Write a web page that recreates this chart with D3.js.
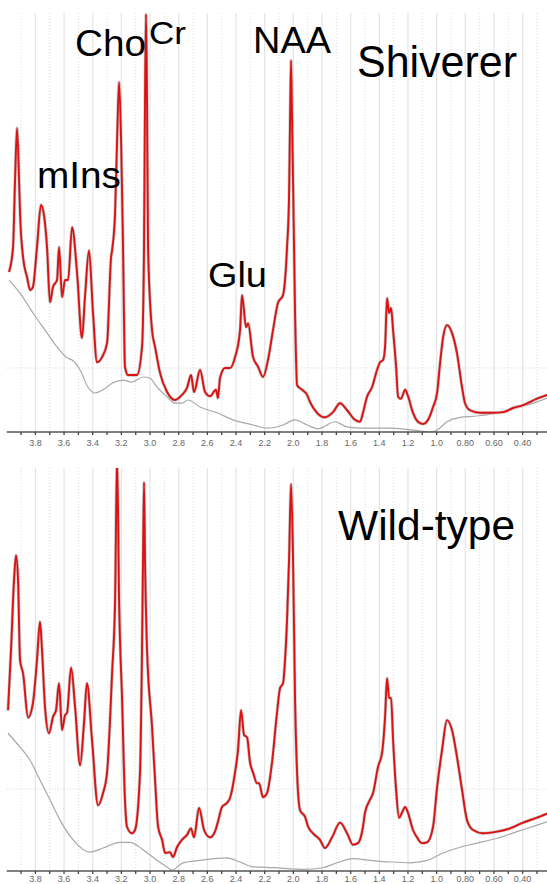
<!DOCTYPE html>
<html><head><meta charset="utf-8">
<script src="https://cdn.jsdelivr.net/npm/d3@7"></script>
<style>
html,body{margin:0;padding:0;background:#fff;}
svg{display:block;}
text{font-family:"Liberation Sans",Arial,sans-serif;}
</style></head>
<body>
<svg id="c" width="547" height="884"></svg>
<script>
// ppm axis ticks
const majorTicks = [3.8,3.6,3.4,3.2,3.0,2.8,2.6,2.4,2.2,2.0,1.8,1.6,1.4,1.2,1.0,0.8,0.6,0.4];
const tickLabels = ["3.8","3.6","3.4","3.2","3.0","2.8","2.6","2.4","2.2","2.0","1.8","1.6","1.4","1.2","1.0","0.80","0.60","0.40"];
const minorTicks = [3.9,3.7,3.5,3.3,3.1,2.9,2.7,2.5,2.3,2.1,1.9,1.7,1.5,1.3,1.1,0.9,0.7,0.5,0.3];

// Shiverer: fitted spectrum [ppm, intensity a.u.]
const shivFit = [
[3.984,2.50],[3.956,2.89],[3.942,3.94],[3.928,4.75],[3.914,3.94],[3.907,3.42],[3.886,2.73],[3.858,2.42],[3.837,2.22],[3.817,2.27],
[3.789,2.89],[3.761,3.55],[3.740,3.39],[3.719,2.89],[3.698,2.03],[3.677,2.27],[3.649,2.375],[3.635,2.89],[3.614,2.11],[3.593,2.375],
[3.572,2.375],[3.544,3.20],[3.509,2.48],[3.475,1.47],[3.454,2.11],[3.426,2.84],[3.398,1.86],[3.370,1.09],[3.335,1.17],[3.300,1.39],
[3.272,2.73],[3.265,2.84],[3.244,3.42],[3.230,4.56],[3.216,5.47],[3.202,4.56],[3.188,2.84],[3.175,1.02],[3.154,0.89],[3.091,0.89],
[3.056,1.33],[3.042,2.89],[3.035,5.19],[3.028,6.53],[3.021,5.19],[3.014,2.89],[2.986,1.59],[2.965,1.33],[2.930,0.92],[2.881,0.625],
[2.826,0.50],[2.777,0.58],[2.742,0.69],[2.714,0.89],[2.693,0.625],[2.651,0.97],[2.616,0.625],[2.581,0.56],[2.540,0.66],[2.526,0.53],
[2.512,0.84],[2.477,1.00],[2.442,1.00],[2.407,1.17],[2.372,1.59],[2.358,2.14],[2.330,1.64],[2.316,1.70],[2.281,1.17],[2.246,1.02],
[2.212,0.86],[2.177,1.125],[2.142,1.59],[2.107,2.02],[2.072,2.14],[2.058,2.375],[2.044,2.89],[2.030,3.67],[2.023,4.875],[2.016,5.81],
[2.009,4.875],[2.002,3.94],[1.988,1.86],[1.974,0.73],[1.939,0.66],[1.904,0.58],[1.884,0.47],[1.835,0.30],[1.779,0.23],[1.723,0.31],
[1.674,0.45],[1.625,0.34],[1.570,0.19],[1.535,0.16],[1.514,0.30],[1.486,0.55],[1.451,0.70],[1.416,0.97],[1.395,1.09],[1.374,1.125],
[1.360,1.33],[1.346,2.09],[1.332,1.86],[1.318,1.94],[1.304,1.59],[1.283,1.02],[1.269,0.55],[1.249,0.52],[1.220,0.66],[1.200,0.56],
[1.165,0.30],[1.130,0.16],[1.095,0.125],[1.060,0.19],[1.025,0.39],[0.997,0.61],[0.976,1.08],[0.955,1.48],[0.928,1.67],[0.893,1.55],
[0.858,1.23],[0.823,0.70],[0.802,0.45],[0.767,0.34],[0.697,0.30],[0.607,0.30],[0.537,0.31],[0.467,0.375],[0.397,0.42],[0.300,0.52],[0.230,0.58]
];
// Shiverer: baseline
const shivBase = [
[3.984,2.375],[3.907,2.17],[3.817,1.86],[3.719,1.55],[3.649,1.33],[3.579,1.16],[3.544,1.125],[3.488,0.97],[3.433,0.70],[3.384,0.61],
[3.328,0.66],[3.258,0.77],[3.188,0.81],[3.126,0.78],[3.049,0.86],[3.000,0.84],[2.951,0.70],[2.881,0.55],[2.826,0.45],[2.777,0.45],
[2.735,0.50],[2.651,0.39],[2.532,0.30],[2.421,0.19],[2.281,0.11],[2.184,0.06],[2.072,0.11],[1.988,0.19],[1.904,0.11],[1.828,0.05],
[1.709,0.16],[1.625,0.08],[1.514,0.06],[1.346,0.06],[1.165,0.03],[1.046,0.00],[0.997,0.03],[0.928,0.16],[0.837,0.23],[0.718,0.25],
[0.579,0.30],[0.439,0.375],[0.300,0.47],[0.230,0.53]
];
// Wild-type: fitted spectrum
const wtFit = [
[3.991,1.96],[3.970,2.70],[3.949,3.55],[3.935,3.85],[3.921,3.55],[3.907,2.57],[3.886,2.41],[3.851,1.87],[3.817,2.05],[3.789,2.57],
[3.768,3.04],[3.754,2.70],[3.733,2.00],[3.705,1.68],[3.677,1.88],[3.656,1.96],[3.635,2.29],[3.614,1.72],[3.593,1.90],[3.579,1.93],
[3.551,2.48],[3.523,2.00],[3.488,1.29],[3.461,1.80],[3.440,2.29],[3.405,1.60],[3.363,0.80],[3.328,0.95],[3.300,1.20],[3.265,2.41],
[3.244,3.30],[3.230,5.05],[3.216,3.30],[3.195,2.09],[3.175,0.87],[3.161,0.54],[3.126,0.46],[3.105,0.50],[3.070,1.20],[3.056,2.70],
[3.049,3.79],[3.042,4.74],[3.035,3.79],[3.021,2.70],[2.986,1.76],[2.965,1.11],[2.944,0.54],[2.916,0.38],[2.895,0.22],[2.861,0.23],
[2.840,0.17],[2.812,0.29],[2.777,0.38],[2.742,0.44],[2.714,0.52],[2.693,0.41],[2.658,0.77],[2.623,0.50],[2.581,0.41],[2.547,0.48],
[2.526,0.60],[2.498,0.78],[2.463,0.83],[2.442,0.89],[2.407,1.20],[2.386,1.48],[2.365,1.96],[2.344,1.66],[2.323,1.63],[2.302,1.32],
[2.281,1.20],[2.253,1.07],[2.239,1.07],[2.212,0.90],[2.184,0.95],[2.149,1.32],[2.114,1.93],[2.093,2.23],[2.072,2.29],[2.058,2.57],
[2.044,3.06],[2.030,3.79],[2.016,4.72],[2.002,3.79],[1.988,2.09],[1.974,1.20],[1.953,0.74],[1.918,0.66],[1.897,0.54],[1.863,0.46],
[1.814,0.38],[1.779,0.28],[1.730,0.41],[1.674,0.59],[1.625,0.46],[1.584,0.32],[1.549,0.34],[1.514,0.54],[1.500,0.71],[1.465,0.87],
[1.444,0.95],[1.409,1.27],[1.381,1.44],[1.360,1.88],[1.346,2.35],[1.332,2.11],[1.318,2.11],[1.304,1.60],[1.283,0.99],[1.262,0.65],
[1.242,0.71],[1.220,0.78],[1.200,0.71],[1.165,0.50],[1.137,0.41],[1.102,0.34],[1.067,0.35],[1.025,0.54],[0.997,1.02],[0.962,1.48],
[0.928,1.84],[0.893,1.72],[0.858,1.39],[0.823,0.99],[0.788,0.62],[0.746,0.50],[0.677,0.46],[0.579,0.48],[0.488,0.52],[0.397,0.59],
[0.300,0.65],[0.230,0.70]
];
// Wild-type: baseline
const wtBase = [
[3.991,1.68],[3.907,1.51],[3.837,1.35],[3.768,1.11],[3.698,0.87],[3.628,0.62],[3.537,0.38],[3.419,0.23],[3.328,0.28],[3.209,0.35],
[3.140,0.35],[3.049,0.26],[2.951,0.13],[2.874,0.04],[2.847,0.01],[2.770,0.10],[2.651,0.13],[2.463,0.16],[2.372,0.11],[2.281,0.05],
[2.142,0.04],[1.932,0.02],[1.793,0.04],[1.695,0.10],[1.584,0.15],[1.465,0.13],[1.325,0.11],[1.186,0.10],[1.067,0.13],[0.955,0.22],
[0.837,0.29],[0.718,0.34],[0.579,0.40],[0.439,0.48],[0.300,0.56],[0.230,0.60]
];

const shivLabels = [
 {t:"Cho", p:3.523, v:5.88, size:36, len:71},
 {t:"Cr", p:3.007, v:6.06, size:32, len:37},
 {t:"NAA", p:2.281, v:5.92, size:37, len:78},
 {t:"mIns", p:3.789, v:3.81, size:36, len:84},
 {t:"Glu", p:2.596, v:2.27, size:35, len:59},
 {t:"Shiverer", p:1.556, v:5.55, size:44, len:160}
];
const wtLabels = [
 {t:"Wild-type", p:1.688, v:4.04, size:43, len:177}
];

const W = 547;
const svg = d3.select("#c");
const x = d3.scaleLinear().domain([4.047, 0.230]).range([0, W]);

const panels = [
  {name:"shiv", top:13, axisY:432, ymax:6.55, fit:shivFit, base:shivBase, labels:shivLabels, lblDy:14},
  {name:"wt", top:468, axisY:871, ymax:4.915, fit:wtFit, base:wtBase, labels:wtLabels, lblDy:11}
];

panels.forEach(P => {
  const y = d3.scaleLinear().domain([0, P.ymax]).range([P.axisY, P.top]);
  const g = svg.append("g");
  svg.append("clipPath").attr("id","clip-"+P.name)
    .append("rect").attr("x",0).attr("y",P.top).attr("width",W).attr("height",P.axisY-P.top);

  // vertical gridlines
  g.selectAll(".gmin").data(minorTicks).join("line")
    .attr("x1",d=>x(d)).attr("x2",d=>x(d)).attr("y1",P.top).attr("y2",P.axisY)
    .attr("stroke","#dcdcdc").attr("stroke-width",1).attr("stroke-dasharray","1,2");
  g.selectAll(".gmaj").data(majorTicks).join("line")
    .attr("x1",d=>x(d)).attr("x2",d=>x(d)).attr("y1",P.top).attr("y2",P.axisY)
    .attr("stroke","#e4e4e4").attr("stroke-width",1.2);
  // horizontal gridline
  g.append("line").attr("x1",x(4.0)).attr("x2",W).attr("y1",y(1)).attr("y2",y(1))
    .attr("stroke","#d6d6d6").attr("stroke-width",1).attr("stroke-dasharray","1,2");

  const line = d3.line().x(d=>x(d[0])).y(d=>y(d[1])).curve(d3.curveMonotoneX);
  const cg = g.append("g").attr("clip-path","url(#clip-"+P.name+")");
  cg.append("path").datum(P.base).attr("d",line).attr("fill","none")
    .attr("stroke","#a8a8a8").attr("stroke-width",1.2);
  cg.append("path").datum(P.fit).attr("d",line).attr("fill","none")
    .attr("stroke","#c8c8c8").attr("stroke-width",3.2);
  cg.append("path").datum(P.fit).attr("d",line).attr("fill","none")
    .attr("stroke","#dd1111").attr("stroke-width",1.9);

  // axis
  const ag = g.append("g").attr("transform","translate(0,"+P.axisY+")");
  ag.append("line").attr("x1",x(4.0)).attr("x2",W).attr("y1",0).attr("y2",0)
    .attr("stroke","#555").attr("stroke-width",1.6);
  ag.selectAll(".tk").data(majorTicks.concat(minorTicks)).join("line")
    .attr("x1",d=>x(d)).attr("x2",d=>x(d)).attr("y1",0).attr("y2",3)
    .attr("stroke","#444").attr("stroke-width",1.3);
  ag.selectAll(".tl").data(majorTicks).join("text")
    .attr("x",d=>x(d)).attr("y",P.lblDy).attr("text-anchor","middle")
    .attr("font-size",9).attr("fill","#666")
    .text((d,i)=>tickLabels[i]);

  // labels
  g.selectAll(".lab").data(P.labels).join("text")
    .attr("x",d=>x(d.p)).attr("y",d=>y(d.v))
    .attr("font-size",d=>d.size).attr("fill","#000")
    .attr("textLength",d=>d.len).attr("lengthAdjust","spacingAndGlyphs")
    .text(d=>d.t);
});
</script>
</body></html>
